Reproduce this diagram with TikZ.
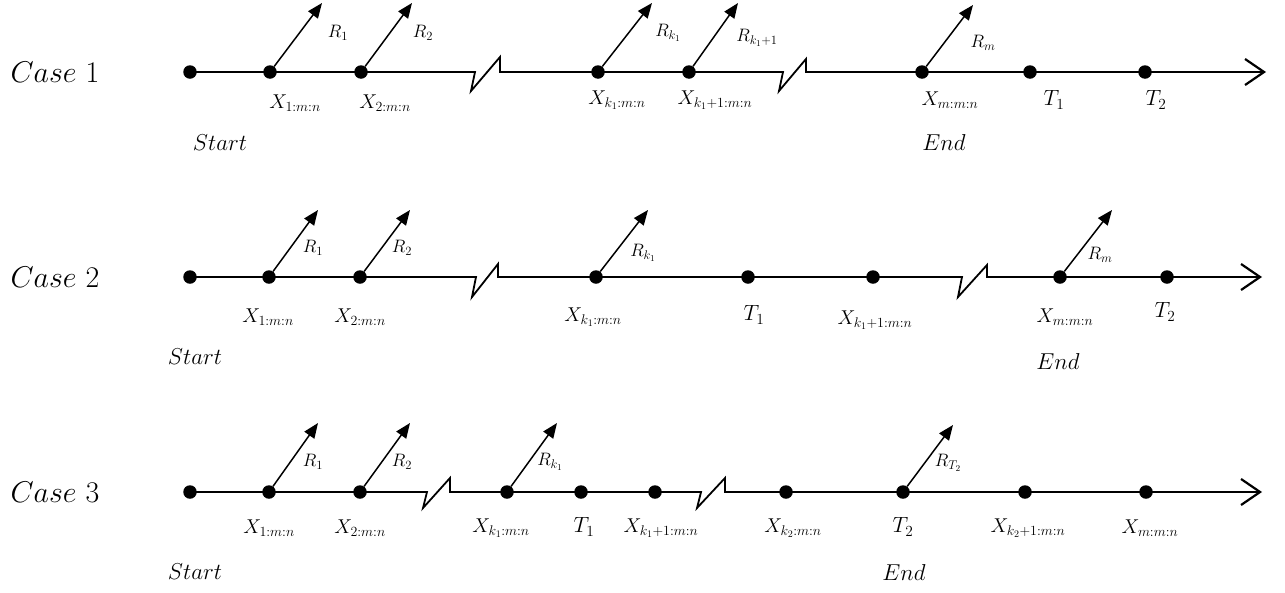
\documentclass[tikz,border=0pt]{standalone}
\usepackage{fix-cm}
\usetikzlibrary{arrows.meta}
\begin{document}
\begin{tikzpicture}[x=1pt,y=-1pt,
  axis/.style={line width=1.8pt,-{Straight Barb[length=19pt,width=26pt,line width=2.2pt]}},
  dot/.style={circle,fill=black,inner sep=0pt,minimum size=13.5pt},
  rarrow/.style={line width=1.5pt,-{Triangle[length=15pt,width=12pt]}},
  xlab/.style={font=\fontsize{20}{24}\selectfont,inner sep=0pt},
  rlab/.style={font=\fontsize{18}{21}\selectfont,inner sep=0pt},
  tlab/.style={font=\fontsize{22}{26}\selectfont,inner sep=0pt},
  slab/.style={font=\fontsize{23}{27}\selectfont,inner sep=0pt},
  caselab/.style={font=\fontsize{30}{34}\selectfont,inner sep=0pt}]
\path[use as bounding box] (0,0) rectangle (1285,592);

% ---------------- Case 1 ----------------
\node[caselab] (c1) at (55,72) {$Case$ 1};
\node[dot] (s1) at (190,72) {};
\node[dot] (x11) at (270,72) {};
\node[dot] (x12) at (361,72) {};
\coordinate (b11) at (475,72);
\node[dot] (x13) at (598,72) {};
\node[dot] (x14) at (689,72) {};
\coordinate (b12) at (783,72);
\node[dot] (x15) at (922,72) {};
\node[dot] (t11) at (1030,72) {};
\node[dot] (t12) at (1145,72) {};
\coordinate (e1) at (1266,72);
\draw[axis] (s1.center) -- (x11.center) -- (x12.center) -- (b11) -- ++(-4,19) -- ++(29,-34) -- ++(0,15)
  -- (x13.center) -- (x14.center) -- (b12) -- ++(-4,19) -- ++(27,-32) -- ++(0,13)
  -- (x15.center) -- (t11.center) -- (t12.center) -- (e1);
\coordinate (r11) at (322,3);
\coordinate (r12) at (412,3);
\coordinate (r13) at (652,3);
\coordinate (r14) at (738,3);
\coordinate (r15) at (973,5);
\draw[rarrow] (x11) -- (r11);
\draw[rarrow] (x12) -- (r12);
\draw[rarrow] (x13) -- (r13);
\draw[rarrow] (x14) -- (r14);
\draw[rarrow] (x15) -- (r15);
\node[rlab] (lr11) at (338,33) {$R_1$};
\node[rlab] (lr12) at (423,33) {$R_2$};
\node[rlab] (lr13) at (668,33) {$R_{k_1}$};
\node[rlab] (lr14) at (757,38) {$R_{k_1+1}$};
\node[rlab] (lr15) at (983,43) {$R_m$};
\node[xlab] (lx11) at (295,103) {$X_{1:m:n}$};
\node[xlab] (lx12) at (385,103) {$X_{2:m:n}$};
\node[xlab] (lx13) at (617,100) {$X_{k_1:m:n}$};
\node[xlab] (lx14) at (715,100) {$X_{k_1+1:m:n}$};
\node[xlab] (lx15) at (950,100) {$X_{m:m:n}$};
\node[tlab] (lt11) at (1054,100) {$T_1$};
\node[tlab] (lt12) at (1156,100) {$T_2$};
\node[slab] (st1) at (220,143) {$Start$};
\node[slab] (en1) at (944,143) {$End$};

% ---------------- Case 2 ----------------
\node[caselab] (c2) at (55,277) {$Case$ 2};
\node[dot] (s2) at (190,277) {};
\node[dot] (x21) at (269,277) {};
\node[dot] (x22) at (360,277) {};
\coordinate (b21) at (476,277);
\node[dot] (x23) at (596,277) {};
\node[dot] (t21) at (748,277) {};
\node[dot] (x24) at (873,277) {};
\coordinate (b22) at (962,277);
\node[dot] (x25) at (1060,277) {};
\node[dot] (t22) at (1167,277) {};
\coordinate (e2) at (1262,277);
\draw[axis] (s2.center) -- (x21.center) -- (x22.center) -- (b21) -- ++(-4,20) -- ++(26,-33) -- ++(0,13)
  -- (x23.center) -- (t21.center) -- (x24.center) -- (b22) -- ++(-4,20) -- ++(29,-32) -- ++(0,12)
  -- (x25.center) -- (t22.center) -- (e2);
\coordinate (r21) at (318,210);
\coordinate (r22) at (410,210);
\coordinate (r23) at (648,210);
\coordinate (r25) at (1112,210);
\draw[rarrow] (x21) -- (r21);
\draw[rarrow] (x22) -- (r22);
\draw[rarrow] (x23) -- (r23);
\draw[rarrow] (x25) -- (r25);
\node[rlab] (lr21) at (313,248) {$R_1$};
\node[rlab] (lr22) at (402,248) {$R_2$};
\node[rlab] (lr23) at (643,253) {$R_{k_1}$};
\node[rlab] (lr25) at (1100,255) {$R_m$};
\node[xlab] (lx21) at (268,317) {$X_{1:m:n}$};
\node[xlab] (lx22) at (360,317) {$X_{2:m:n}$};
\node[xlab] (lx23) at (593,317) {$X_{k_1:m:n}$};
\node[tlab] (lt21) at (754,315) {$T_1$};
\node[xlab] (lx24) at (875,320) {$X_{k_1+1:m:n}$};
\node[xlab] (lx25) at (1065,317) {$X_{m:m:n}$};
\node[tlab] (lt22) at (1165,312) {$T_2$};
\node[slab] (st2) at (195,357) {$Start$};
\node[slab] (en2) at (1058,362) {$End$};

% ---------------- Case 3 ----------------
\node[caselab] (c3) at (55,492) {$Case$ 3};
\node[dot] (s3) at (190,492) {};
\node[dot] (x31) at (269,492) {};
\node[dot] (x32) at (360,492) {};
\coordinate (b31) at (427,492);
\node[dot] (x33) at (507,492) {};
\node[dot] (t31) at (581,492) {};
\node[dot] (x34) at (655,492) {};
\coordinate (b32) at (701,492);
\node[dot] (x35) at (786,492) {};
\node[dot] (t32) at (903,492) {};
\node[dot] (x36) at (1025,492) {};
\node[dot] (x37) at (1146,492) {};
\coordinate (e3) at (1262,492);
\draw[axis] (s3.center) -- (x31.center) -- (x32.center) -- (b31) -- ++(-4,16) -- ++(27,-30) -- ++(0,14)
  -- (x33.center) -- (t31.center) -- (x34.center) -- (b32) -- ++(-4,16) -- ++(28,-30) -- ++(0,14)
  -- (x35.center) -- (t32.center) -- (x36.center) -- (x37.center) -- (e3);
\coordinate (r31) at (318,423);
\coordinate (r32) at (410,423);
\coordinate (r33) at (557,423);
\coordinate (r34) at (953,425);
\draw[rarrow] (x31) -- (r31);
\draw[rarrow] (x32) -- (r32);
\draw[rarrow] (x33) -- (r33);
\draw[rarrow] (t32) -- (r34);
\node[rlab] (lr31) at (313,462) {$R_1$};
\node[rlab] (lr32) at (402,462) {$R_2$};
\node[rlab] (lr33) at (550,462) {$R_{k_1}$};
\node[rlab] (lr34) at (948,463) {$R_{T_2}$};
\node[xlab] (lx31) at (269,528) {$X_{1:m:n}$};
\node[xlab] (lx32) at (360,528) {$X_{2:m:n}$};
\node[xlab] (lx33) at (501,528) {$X_{k_1:m:n}$};
\node[tlab] (lt31) at (584,527) {$T_1$};
\node[xlab] (lx34) at (661,528) {$X_{k_1+1:m:n}$};
\node[xlab] (lx35) at (793,528) {$X_{k_2:m:n}$};
\node[tlab] (lt32) at (903,527) {$T_2$};
\node[xlab] (lx36) at (1028,528) {$X_{k_2+1:m:n}$};
\node[xlab] (lx37) at (1150,528) {$X_{m:m:n}$};
\node[slab] (st3) at (195,572) {$Start$};
\node[slab] (en3) at (904,573) {$End$};
\end{tikzpicture}
\end{document}
